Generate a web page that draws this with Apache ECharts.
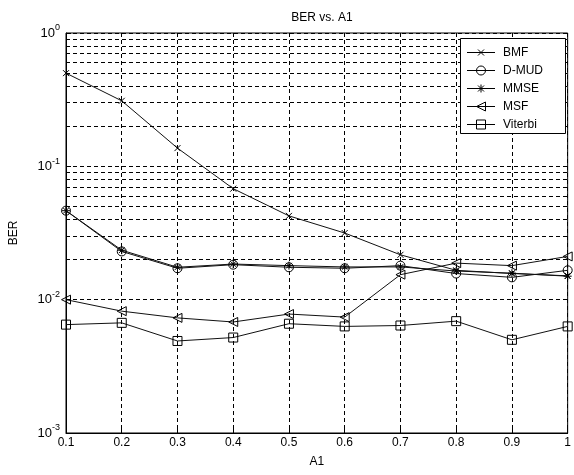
<!DOCTYPE html>
<html>
<head>
<meta charset="utf-8">
<script src="https://cdn.jsdelivr.net/npm/echarts@6/dist/echarts.min.js"></script>
<style>
  html, body { margin: 0; padding: 0; background: #fff; }
  #chart { width: 574px; height: 475px; }
</style>
</head>
<body>
<div id="chart"></div>
<script>
// values
const a1 = [0.1, 0.2, 0.3, 0.4, 0.5, 0.6, 0.7, 0.8, 0.9, 1.0]
const bmf = [0.50, 0.31, 0.137, 0.068, 0.0425, 0.0316, 0.0217, 0.0166, 0.0157, 0.0151]
const dmud = [0.0465, 0.0230, 0.0172, 0.0183, 0.0175, 0.0172, 0.0180, 0.0157, 0.0147, 0.0166]
const mmse = [0.0465, 0.0235, 0.0175, 0.0185, 0.0180, 0.0176, 0.0176, 0.0164, 0.0158, 0.0150]
const msf = [0.0100, 0.0082, 0.0073, 0.0068, 0.0078, 0.0074, 0.0154, 0.0188, 0.0180, 0.0211]
const viterbi = [0.0065, 0.0067, 0.0049, 0.0052, 0.0066, 0.0063, 0.0064, 0.0069, 0.0050, 0.0063]
// minor log grid lines (2..9 of each decade)
const minorGrid = [0.002, 0.003, 0.004, 0.005, 0.006, 0.007, 0.008, 0.009,
  0.02, 0.03, 0.04, 0.05, 0.06, 0.07, 0.08, 0.09,
  0.2, 0.3, 0.4, 0.5, 0.6, 0.7, 0.8, 0.9]
const names = ['BMF', 'D-MUD', 'MMSE', 'MSF', 'Viterbi']

const font = 'Liberation Sans'
const dash = [4, 3]

const markers = {
  BMF: 'path://M0,0L10,10M10,0L0,10',
  'D-MUD': 'circle',
  MMSE: 'path://M5,0L5,10M0,5L10,5M1.5,1.5L8.5,8.5M8.5,1.5L1.5,8.5',
  MSF: 'path://M0,5L10,0L10,10Z',
  Viterbi: 'rect'
}

function pts(ys) {
  return a1.map((x, i) => [x, ys[i]])
}

function lineSeries(name, ys, size) {
  return {
    name: name,
    type: 'line',
    data: pts(ys),
    symbol: markers[name],
    symbolSize: size,
    symbolKeepAspect: true,
    showAllSymbol: true,
    animation: false,
    lineStyle: { color: '#111', width: 1 },
    itemStyle: { color: 'none', borderColor: '#000', borderWidth: 1 }
  }
}

// MATLAB style legend box, drawn as graphic elements
const stroke = { stroke: '#000', lineWidth: 1, fill: 'none' }
function legendMarker(name, cx, cy) {
  const r = 4.5
  if (name === 'BMF') {
    return [
      { type: 'line', shape: { x1: cx - 3, y1: cy - 3, x2: cx + 3, y2: cy + 3 }, style: stroke },
      { type: 'line', shape: { x1: cx + 3, y1: cy - 3, x2: cx - 3, y2: cy + 3 }, style: stroke }
    ]
  }
  if (name === 'D-MUD') return [{ type: 'circle', shape: { cx: cx, cy: cy, r: r }, style: stroke }]
  if (name === 'MMSE') {
    return [
      { type: 'line', shape: { x1: cx, y1: cy - 4, x2: cx, y2: cy + 4 }, style: stroke },
      { type: 'line', shape: { x1: cx - 3, y1: cy - 3, x2: cx + 3, y2: cy + 3 }, style: stroke },
      { type: 'line', shape: { x1: cx + 3, y1: cy - 3, x2: cx - 3, y2: cy + 3 }, style: stroke }
    ]
  }
  if (name === 'MSF') {
    return [{ type: 'polygon', shape: { points: [[cx - r, cy], [cx + r, cy - r], [cx + r, cy + r]] }, style: stroke }]
  }
  return [{ type: 'rect', shape: { x: cx - r, y: cy - r, width: 2 * r, height: 2 * r }, style: stroke }]
}

const legendGraphic = [{
  type: 'rect',
  shape: { x: 460.5, y: 38.5, width: 105, height: 95 },
  style: { fill: '#fff', stroke: '#000', lineWidth: 1 },
  z: 10
}]
names.forEach((name, i) => {
  const cy = 52.5 + i * 18
  legendGraphic.push({ type: 'line', shape: { x1: 467, y1: cy, x2: 495, y2: cy }, style: stroke, z: 11 })
  legendMarker(name, 481, cy).forEach(el => legendGraphic.push(Object.assign(el, { z: 11 })))
  legendGraphic.push({
    type: 'text', x: 503, y: cy, z: 11,
    style: { text: name, fill: '#000', font: '12px "' + font + '"', verticalAlign: 'middle', textVerticalAlign: 'middle' }
  })
})

const chart = echarts.init(document.getElementById('chart'))
chart.setOption({
  backgroundColor: '#fff',
  animation: false,
  title: {
    text: 'BER vs. A1',
    left: 317,
    top: 7,
    textAlign: 'center',
    textStyle: { fontFamily: font, fontSize: 12, fontWeight: 'normal', color: '#000' }
  },
  grid: {
    left: 64,
    right: 4,
    top: 33,
    bottom: 42,
    show: true,
    borderColor: '#000',
    borderWidth: 1
  },
  graphic: legendGraphic,
  xAxis: {
    type: 'value',
    min: 0.1,
    max: 1,
    interval: 0.1,
    name: 'A1',
    nameLocation: 'middle',
    nameGap: 23,
    nameTextStyle: { fontFamily: font, fontSize: 12, color: '#000' },
    axisLine: { lineStyle: { color: '#000' } },
    axisTick: { inside: true, length: 5, lineStyle: { color: '#000' } },
    axisLabel: {
      fontFamily: font, fontSize: 12, color: '#000', margin: 4,
      formatter: v => String(+v.toFixed(1))
    },
    splitLine: { show: true, lineStyle: { color: '#000', type: dash, width: 1 } }
  },
  yAxis: {
    type: 'log',
    logBase: 10,
    min: 0.001,
    max: 1,
    name: 'BER',
    nameLocation: 'middle',
    nameGap: 46,
    nameTextStyle: { fontFamily: font, fontSize: 12, color: '#000' },
    axisLine: { lineStyle: { color: '#000' } },
    axisTick: { inside: true, length: 5, lineStyle: { color: '#000' } },
    axisLabel: {
      fontFamily: font, color: '#000', margin: 6,
      formatter: v => '{b|10}{s|' + Math.round(Math.log10(v)) + '}',
      rich: {
        b: { fontFamily: font, fontSize: 13, color: '#000' },
        s: { fontFamily: font, fontSize: 9, color: '#000', verticalAlign: 'top', padding: [0, 0, 10, 0] }
      }
    },
    splitLine: { show: true, lineStyle: { color: '#000', type: dash, width: 1 } }
  },
  series: [
    Object.assign(lineSeries('BMF', bmf, 6), {
      markLine: {
        silent: true,
        symbol: 'none',
        label: { show: false },
        lineStyle: { color: '#000', type: dash, width: 1 },
        data: minorGrid.map(v => ({ yAxis: v }))
      }
    }),
    lineSeries('D-MUD', dmud, 9),
    lineSeries('MMSE', mmse, 8),
    lineSeries('MSF', msf, 9),
    lineSeries('Viterbi', viterbi, 9)
  ]
})
</script>
</body>
</html>
